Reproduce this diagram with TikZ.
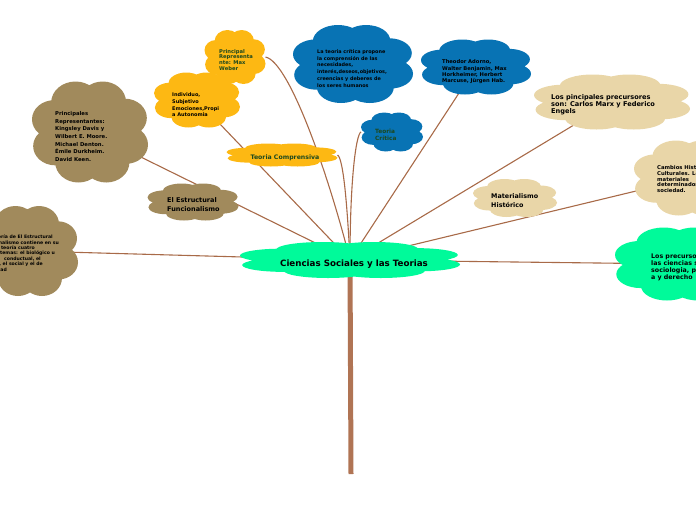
\documentclass[tikz,border=0pt]{standalone}
\usepackage{fontspec}
\setsansfont{DejaVu Sans}
\definecolor{cbrown}{RGB}{161,138,92}
\definecolor{cyellow}{RGB}{253,184,19}
\definecolor{cblue}{RGB}{8,115,180}
\definecolor{ctan}{RGB}{233,214,168}
\definecolor{cgreen}{RGB}{0,250,154}
\definecolor{link}{RGB}{168,106,72}
\definecolor{trunkc}{RGB}{176,116,84}
\definecolor{dgreen}{RGB}{28,72,30}
\newcommand\fsz[2]{\fontsize{#1}{#2}\selectfont}
% #1 name, #2 cx, #3 cy, #4 width, #5 height, #6 colour
\newcommand\cloudfill[6]{%
 \node[inner sep=0pt, outer sep=0pt, minimum width=#4pt, minimum height=#5pt] (#1) at (#2,#3) {};
 \fill[#6, shift={(#2,#3)}, xscale=#4/2, yscale=#5/2]
   (0,0) circle (0.62)
   (-0.62,-0.25) circle (0.38)
   (-0.25,-0.58) circle (0.42)
   (0.22,-0.60) circle (0.40)
   (0.60,-0.28) circle (0.38)
   (0.62,0.25) circle (0.38)
   (0.28,0.60) circle (0.40)
   (-0.20,0.60) circle (0.40)
   (-0.60,0.28) circle (0.38);
}
\pgfdeclarelayer{bg}
\pgfsetlayers{bg,main}
\begin{document}
\begin{tikzpicture}[x=1pt,y=-1pt,
 txt/.style={font=\sffamily\bfseries, inner sep=0pt, align=left, anchor=north west},
 conn/.style={draw=link, line width=1.1pt},
]
\useasboundingbox (0,0) rectangle (696,520);
\begin{scope}
\clip (0,0) rectangle (696,520);
% clouds
\cloudfill{cL}{28}{251}{100}{90}{cbrown}
\cloudfill{cP}{90}{132}{116}{101}{cbrown}
\cloudfill{cI}{197}{100}{86}{55}{cyellow}
\cloudfill{cW}{235}{57}{61}{54}{cyellow}
\cloudfill{cC}{282}{155}{111}{23}{cyellow}
\cloudfill{cT}{392}{132}{62}{39}{cblue}
\cloudfill{cB}{353}{64}{120}{78}{cblue}
\cloudfill{cA}{476}{67}{110}{55}{cblue}
\cloudfill{cM}{612}{102}{156}{55}{ctan}
\cloudfill{cH}{690}{178}{112}{75}{ctan}
\cloudfill{cG}{680}{264}{130}{73}{cgreen}
\cloudfill{cX}{515}{198}{84}{38}{ctan}
\cloudfill{cE}{193}{202}{91}{37}{cbrown}
\cloudfill{cMain}{350}{260}{220}{36}{cgreen}
\coordinate (trunkend) at (351,474);
% texts
\node[font=\sffamily\bfseries\fsz{8.7}{9}, inner sep=0pt] (tMain) at (354,264) {Ciencias Sociales y las Teorias};
\node[txt, font=\sffamily\bfseries\fsz{5.3}{7.6}] (tP) at (55,111.5) {Principales\\Representantes:\\Kingsley Davis y\\Wilbert E. Moore.\\Michael Denton.\\Émile Durkheim.\\David Keen.};
\node[txt, font=\sffamily\bfseries\fsz{5}{6.8}] (tI) at (172,92.5) {Individuo,\\Subjetivo\\Emociones,Propi\\a Autonomia};
\node[txt, font=\sffamily\bfseries\fsz{5.2}{5.8}, text=dgreen] (tW) at (219,49) {Principal\\Representa\\nte: Max\\Weber};
\node[txt, font=\sffamily\bfseries\fsz{4.9}{6.9}] (tB) at (317,49) {La teoria crítica propone\\la comprensión de las\\necesidades,\\interés,deseos,objetivos,\\creencias y deberes de\\los seres humanos};
\node[txt, font=\sffamily\bfseries\fsz{5.2}{6.2}] (tA) at (442,59.7) {Theodor Adorno,\\Walter Benjamin, Max\\Horkheimer, Herbert\\Marcuse, Jürgen Hab.};
\node[txt, font=\sffamily\bfseries\fsz{6.6}{6.8}] (tM) at (551,94.5) {Los pincipales precursores\\son: Carlos Marx y Federico\\Engels};
\node[txt, font=\sffamily\bfseries\fsz{5.3}{5.8}] (tH) at (657,165) {Cambios Históricos\\Culturales. Los\\materiales\\determinados en la\\sociedad.};
\node[txt, font=\sffamily\bfseries\fsz{6.3}{7}] (tG) at (651,253.5) {Los precursores de\\las ciencias sociales:\\sociologia, psicologi\\a y derecho};
\node[txt, font=\sffamily\bfseries\fsz{6.4}{9}] (tX) at (491,193.5) {Materialismo\\Histórico};
\node[txt, font=\sffamily\bfseries\fsz{6.5}{8.3}] (tE) at (167,197.8) {El Estructural\\Funcionalismo};
\node[font=\sffamily\bfseries\fsz{6.2}{7}, text=dgreen, inner sep=0pt] (tC) at (285,157.7) {Teoria Comprensiva};
\node[txt, font=\sffamily\bfseries\fsz{5.8}{7.3}, text=dgreen] (tT) at (375,129) {Teoria\\Crítica};
\begin{scope}[every node/.style={font=\sffamily\bfseries\fsz{4.6}{5.5}, inner sep=0pt, anchor=east}]
\node (tL1) at (53,237) {Teoría de El Estructural};
\node (tL2) at (59,242.5) {Funcionalismo contiene en su};
\node (tL3) at (35,248) {teoría cuatro};
\node (tL4) at (55,253.5) {subsistemas: el biológico u};
\node (tL5) at (41,259) {conductual, el};
\node (tL6) at (43,264.5) {cultural, el social y el de};
\node (tL7) at (7,270) {sociedad};
\end{scope}
\end{scope}
% connectors
\begin{pgfonlayer}{bg}
\draw[trunkc, line width=5pt] (cMain.center) -- (trunkend);
\draw[conn] (cL.center) -- (cMain.center);
\draw[conn] (cP.center) -- (cMain.center);
\draw[conn] (cI.center) -- (cMain.center);
\draw[conn] (cA.center) -- (cMain.center);
\draw[conn] (cM.center) -- (cMain.center);
\draw[conn] (cH.center) -- (cMain.center);
\draw[conn] (cG.center) -- (cMain.center);
\draw[conn] (cW.east) .. controls (290,62) and (330,180) .. (cMain.center);
\draw[conn] (cC.east) .. controls (343,158) and (347,200) .. (cMain.center);
\draw[conn] (cT.west) .. controls (356,134) and (350,180) .. (cMain.center);
\end{pgfonlayer}
\end{tikzpicture}
\end{document}
